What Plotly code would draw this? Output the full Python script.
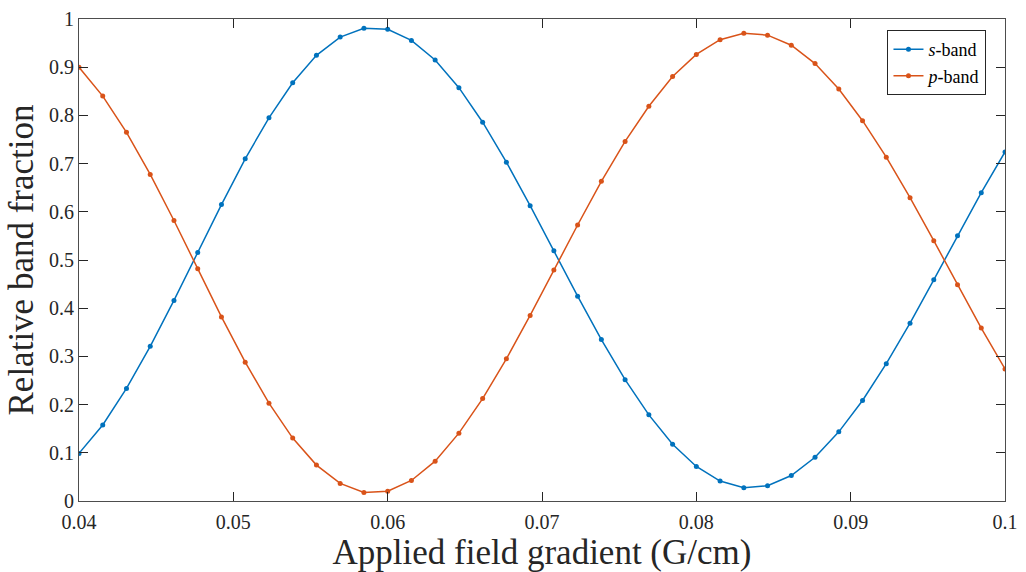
import numpy as np
import plotly.graph_objects as go

x_gradient = np.linspace(0.04, 0.1, 40)

s_band = [0.0988, 0.1577, 0.2335, 0.3208, 0.4162, 0.5157, 0.615, 0.710, 0.795, 0.8677,
          0.9246, 0.9624, 0.9807, 0.9787, 0.9556, 0.915, 0.8575, 0.7858, 0.703, 0.6126,
          0.519, 0.425, 0.335, 0.2518, 0.1787, 0.1178, 0.0717, 0.0413, 0.0277, 0.0318,
          0.0528, 0.0907, 0.1435, 0.2085, 0.2849, 0.369, 0.4589, 0.5503, 0.6396, 0.7243]

p_band = [0.900, 0.840, 0.765, 0.6775, 0.582, 0.482, 0.382, 0.288, 0.203, 0.1306,
          0.0745, 0.0365, 0.0176, 0.0203, 0.0426, 0.0826, 0.1408, 0.2125, 0.295, 0.385,
          0.479, 0.5726, 0.6633, 0.746, 0.819, 0.8806, 0.9265, 0.957, 0.9706, 0.9665,
          0.9455, 0.9076, 0.8548, 0.789, 0.7133, 0.6294, 0.540, 0.4487, 0.3587, 0.274]

x_ticks = [0.04, 0.05, 0.06, 0.07, 0.08, 0.09, 0.1]
x_ticklabels = ["0.04", "0.05", "0.06", "0.07", "0.08", "0.09", "0.1"]
y_ticks = [0, 0.1, 0.2, 0.3, 0.4, 0.5, 0.6, 0.7, 0.8, 0.9, 1]
y_ticklabels = ["0", "0.1", "0.2", "0.3", "0.4", "0.5", "0.6", "0.7", "0.8", "0.9", "1"]

FONT = "Liberation Serif"
AX = "#262626"
LINE = "#4d4d4d"

fig = go.Figure()
fig.add_trace(go.Scatter(x=x_gradient, y=s_band, mode="lines+markers",
                         name="<i>s</i>-band",
                         line=dict(color="#0072BD", width=1.5),
                         marker=dict(color="#0072BD", size=5)))
fig.add_trace(go.Scatter(x=x_gradient, y=p_band, mode="lines+markers",
                         name="<i>p</i>-band",
                         line=dict(color="#D95319", width=1.5),
                         marker=dict(color="#D95319", size=5)))

axis_common = dict(showgrid=False, zeroline=False, showline=True, linecolor=LINE,
                   linewidth=1, mirror="ticks", ticks="inside", ticklen=9,
                   tickcolor=AX, tickwidth=1, ticklabeloverflow="allow",
                   tickfont=dict(family=FONT, size=20, color=AX))

fig.update_layout(
    width=1026, height=572,
    margin=dict(l=79, r=17, t=8, b=71),
    paper_bgcolor="white", plot_bgcolor="white",
    showlegend=True,
    legend=dict(x=0.98, y=0.977, xanchor="right", yanchor="top",
                bgcolor="white", bordercolor=AX, borderwidth=1,
                font=dict(family=FONT, size=18, color="black"),
                itemwidth=30, tracegroupgap=0),
    xaxis=dict(range=[0.04, 0.1], tickvals=x_ticks, ticktext=x_ticklabels,
               ticklabelstandoff=3,
               title=dict(text="Applied field gradient (G/cm)",
                          font=dict(family=FONT, size=35, color=AX), standoff=2),
               **axis_common),
    yaxis=dict(range=[0, 1], tickvals=y_ticks, ticktext=y_ticklabels,
               title=dict(text="Relative band fraction",
                          font=dict(family=FONT, size=35, color=AX), standoff=4),
               **axis_common),
)

fig.write_html("out.html")
